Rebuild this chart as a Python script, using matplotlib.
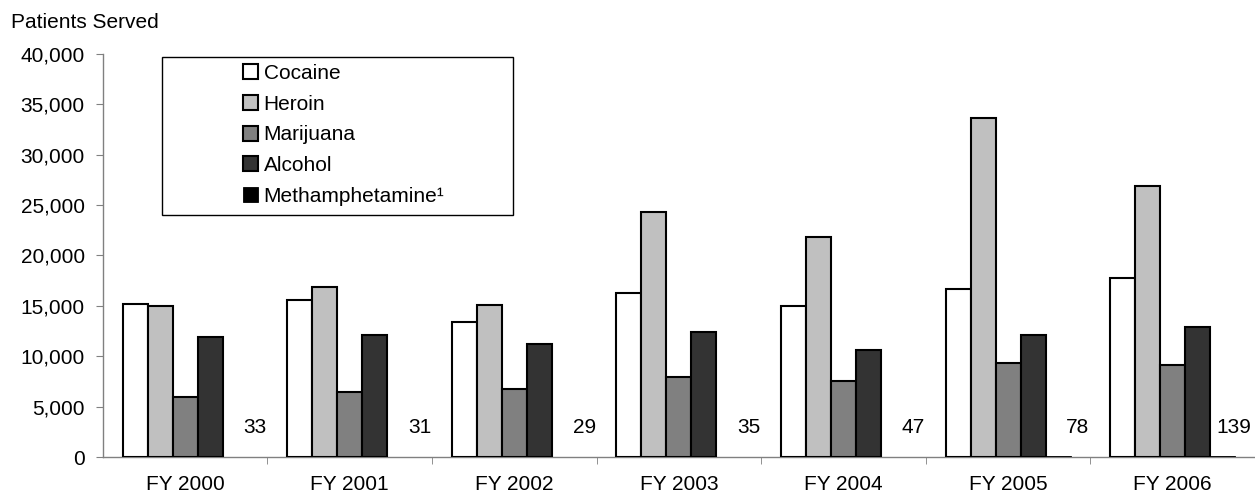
import numpy as np
import matplotlib
matplotlib.use("Agg")
import matplotlib.pyplot as plt
from matplotlib.patches import Rectangle
from matplotlib.ticker import FuncFormatter

plt.rcParams['font.family'] = ['Liberation Sans', 'DejaVu Sans']

# data
years = ['FY 2000', 'FY 2001', 'FY 2002', 'FY 2003', 'FY 2004', 'FY 2005', 'FY 2006']
cocaine = [15200, 15600, 13400, 16300, 15000, 16700, 17800]
heroin = [15000, 16900, 15100, 24300, 21800, 33600, 26900]
marijuana = [6000, 6500, 6750, 7950, 7550, 9300, 9150]
alcohol = [11900, 12100, 11200, 12400, 10600, 12100, 12900]
meth = [33, 31, 29, 35, 47, 78, 139]

series = [cocaine, heroin, marijuana, alcohol, meth]
names = ['Cocaine', 'Heroin', 'Marijuana', 'Alcohol', 'Methamphetamine\u00b9']
colors = ['white', '#c0c0c0', '#808080', '#333333', 'black']

fig = plt.figure(figsize=(12.55, 4.98), dpi=100)
ax = fig.add_axes([0.082, 0.0823, 0.918, 0.8093])

x = np.arange(len(years))
w = 0.152
for i, (vals, name, c) in enumerate(zip(series, names, colors)):
    lw = 1.5 if i < 4 else 0.6
    ax.bar(x + (i - 2) * w, vals, w, color=c, edgecolor='black',
           linewidth=lw, label=name, zorder=3)

# methamphetamine counts written next to the tiny bars
for xi, v in zip(x, meth):
    tx = min(xi + 2 * w + 0.12, 6.37)
    ax.text(tx, 2900, str(v), ha='center', va='center', fontsize=15)

ax.set_xlim(-0.5, 6.5)
ax.set_ylim(0, 40000)
ax.set_yticks(np.arange(0, 40001, 5000))
ax.yaxis.set_major_formatter(FuncFormatter(lambda v, p: '{:,.0f}'.format(v)))

ax.set_xticks(x)
ax.set_xticklabels(years)
ax.set_xticks(np.arange(0.5, 6.5, 1), minor=True)
ax.tick_params(axis='x', which='major', length=0, pad=13, labelsize=15)
ax.tick_params(axis='x', which='minor', length=5, color='#808080')
ax.tick_params(axis='y', length=5, color='#808080', labelsize=15, pad=8)

for s in ['top', 'right']:
    ax.spines[s].set_visible(False)
for s in ['left', 'bottom']:
    ax.spines[s].set_color('#808080')
    ax.spines[s].set_linewidth(1)

# legend box
ax.add_patch(Rectangle((0.051, 0.600), 0.305, 0.393, transform=ax.transAxes,
                       facecolor='white', edgecolor='black', linewidth=1, zorder=4))
leg = ax.legend(loc='upper left', bbox_to_anchor=(0.122, 0.975), frameon=False,
                fontsize=15, handlelength=0.72, handleheight=0.72, handletextpad=0.25,
                labelspacing=0.56, borderaxespad=0, borderpad=0)
leg.set_zorder(5)

fig.text(0.009, 0.955, 'Patients Served', fontsize=15, va='center')

fig.savefig('out.png', dpi=100)
